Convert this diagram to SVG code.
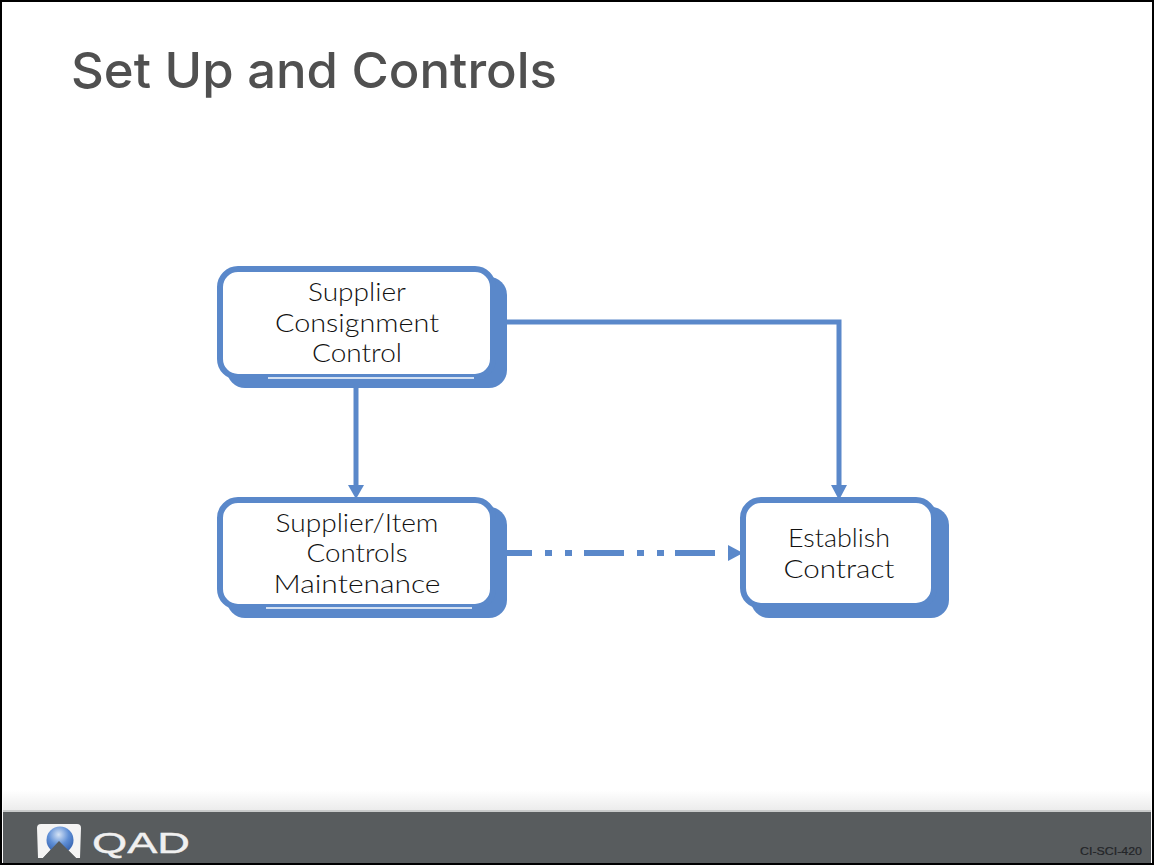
<svg xmlns="http://www.w3.org/2000/svg" width="1154" height="867" viewBox="0 0 1154 867">
<defs>
<style>
.shadow{fill:#5a88ca}
.box{fill:#fff;stroke:#5a88ca;stroke-width:6}
.lbl{font-family:"Lato","Noto Sans",sans-serif;font-weight:300;font-size:26px;fill:#111;text-anchor:middle}
.conn{fill:none;stroke:#5a88ca;stroke-width:5}
.head{fill:#5a88ca}
</style>
<linearGradient id="fade" x1="0" y1="0" x2="0" y2="1"><stop offset="0" stop-color="#fff"/><stop offset="1" stop-color="#ececec"/></linearGradient>
<radialGradient id="orb" cx="0.45" cy="0.3" r="0.75"><stop offset="0" stop-color="#d5e3f5"/><stop offset="0.5" stop-color="#5f8fd6"/><stop offset="1" stop-color="#2d5aa8"/></radialGradient>
</defs>
<rect width="1154" height="867" fill="#fff"/>
<text x="71" y="88" font-family="Inter,'Liberation Sans',sans-serif" font-weight="500" font-size="50" fill="#505050" textLength="486" lengthAdjust="spacingAndGlyphs">Set Up and Controls</text>
<g id="connectors">
<path class="conn" d="M505 322H839V488"/>
<path class="head" d="M831 485H847L839 500Z"/>
<path class="conn" d="M356 380V488"/>
<path class="head" d="M348 485H364L356 499Z"/>
<path class="conn" d="M505 553H532M545 553H552M565 553H572M584 553H624M637 553H644M657 553H664M675 553H715" style="stroke-width:6"/>
<path class="head" d="M728 545L743 553L728 561Z"/>
</g>
<g id="node-supplier-consignment">
<rect class="shadow" x="227" y="277" width="280" height="111" rx="18"/>
<rect class="box" x="220" y="269" width="273" height="108" rx="18"/>
<path d="M268 378H474" stroke="#fff" stroke-width="1.5"/>
<text class="lbl" x="357" y="301" textLength="98" lengthAdjust="spacingAndGlyphs">Supplier</text>
<text class="lbl" x="357" y="332" textLength="164" lengthAdjust="spacingAndGlyphs">Consignment</text>
<text class="lbl" x="357" y="362" textLength="90" lengthAdjust="spacingAndGlyphs">Control</text>
</g>
<g id="node-supplier-item">
<rect class="shadow" x="227" y="507" width="280" height="111" rx="18"/>
<rect class="box" x="220" y="500" width="273" height="107" rx="18"/>
<path d="M266 608H472" stroke="#fff" stroke-width="1.5"/>
<text class="lbl" x="357" y="532" textLength="163" lengthAdjust="spacingAndGlyphs">Supplier/Item</text>
<text class="lbl" x="357" y="562" textLength="101" lengthAdjust="spacingAndGlyphs">Controls</text>
<text class="lbl" x="357" y="593" textLength="167" lengthAdjust="spacingAndGlyphs">Maintenance</text>
</g>
<g id="node-establish">
<rect class="shadow" x="751" y="507" width="198" height="111" rx="18"/>
<rect class="box" x="743" y="500" width="191" height="106" rx="18"/>
<text class="lbl" x="839" y="547" textLength="102" lengthAdjust="spacingAndGlyphs">Establish</text>
<text class="lbl" x="839" y="578" textLength="111" lengthAdjust="spacingAndGlyphs">Contract</text>
</g>
<rect x="3" y="790" width="1148" height="20" fill="url(#fade)"/>
<rect x="3" y="810" width="1148" height="2" fill="#c9cbcb"/>
<rect x="3" y="812" width="1148" height="51" fill="#585c5e"/>
<path d="M41 824H77Q81 824 81 828L80 858H76L59 841L43 858H38L37 828Q37 824 41 824Z" fill="#f4f4f4"/>
<circle cx="60" cy="840" r="13.5" fill="url(#orb)"/>
<path d="M43 858L59 841L76 858Z" fill="#585c5e"/>
<text x="92" y="853" font-family="'Liberation Sans',Arial,sans-serif" font-size="29" fill="#f0f0f0" stroke="#f0f0f0" stroke-width="0.4" textLength="98" lengthAdjust="spacingAndGlyphs">QAD</text>
<text x="1142" y="855" font-family="'Liberation Sans',Arial,sans-serif" font-weight="400" font-size="11.5" fill="#232528" stroke="#232528" stroke-width="0.2" text-anchor="end" textLength="62" lengthAdjust="spacingAndGlyphs">CI-SCI-420</text>
<rect x="1" y="1" width="1152" height="863" fill="none" stroke="#000" stroke-width="2"/>
</svg>
